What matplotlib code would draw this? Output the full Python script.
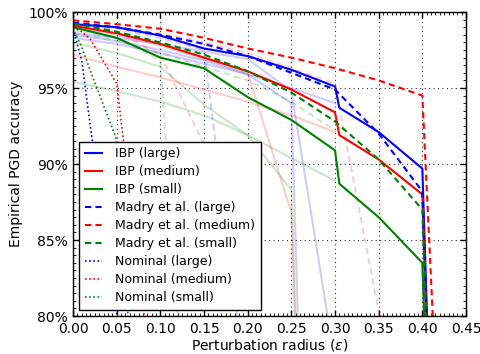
import matplotlib
matplotlib.use("Agg")
import matplotlib.pyplot as plt
from matplotlib.ticker import MultipleLocator, FuncFormatter

plt.rcParams['font.family'] = ['DejaVu Sans']

# perturbation radii
EPS = [0.0, 0.05, 0.1, 0.15, 0.2, 0.25, 0.3, 0.35, 0.4, 0.45]
EPS_JUMP = [0.0, 0.05, 0.1, 0.15, 0.2, 0.25, 0.3, 0.305, 0.35, 0.4, 0.45]
NOM_EPS = [0.0, 0.01, 0.02, 0.05, 0.1]

# main curves (accuracy in %)
ibp_large = [99.2, 99.0, 98.45, 97.6, 97.1, 96.2, 95.1, 93.7, 92.1, 89.7, 0.0]
ibp_medium = [99.1, 98.6, 97.9, 97.0, 96.1, 94.9, 93.4, 91.9, 90.3, 88.0, 0.0]
ibp_small = [99.0, 98.3, 97.0, 96.3, 94.4, 92.9, 90.9, 88.7, 86.5, 83.5, 0.0]
madry_large = [99.3, 99.0, 98.5, 97.9, 97.1, 96.0, 94.9, 92.0, 88.2, 0.0]
madry_medium = [99.45, 99.2, 98.9, 98.3, 97.6, 97.0, 96.3, 95.5, 94.5, 34.0]
madry_small = [99.25, 98.7, 98.0, 97.2, 96.1, 94.7, 92.8, 90.3, 87.0, 0.0]
nominal_large = [98.9, 96.8, 92.4, 80.2, 5.0]
nominal_medium = [99.0, 98.7, 98.2, 95.3, 71.0]
nominal_small = [98.9, 97.7, 96.1, 91.6, 47.0]

# faded curves (other training radii)
faded_ibp_blue_a = [98.6, 98.3, 97.9, 97.4, 96.9, 94.8, 77.0]
faded_ibp_blue_b = [98.5, 98.1, 97.5, 96.8, 95.9, 94.0, 0.0]
faded_ibp_blue_c = [98.3, 97.9, 97.3, 96.6, 95.9, 95.0, 94.0]
faded_ibp_red_a = [97.2, 96.4, 95.7, 94.9, 94.1, 93.2, 92.1]
faded_ibp_red_b = [99.0, 98.5, 97.8, 96.9, 96.0, 86.8, 0.0]
faded_ibp_green_a = [95.4, 94.8, 94.1, 93.2, 91.9, 88.3, 0.0]
faded_ibp_green_b = [98.0, 97.3, 96.4, 93.9, 91.9, 90.4, 88.9]
faded_madry_blue = [99.2, 98.9, 98.3, 97.5, 74.5]
faded_madry_red_a = [99.2, 98.7, 97.2, 91.3, 52.0]
faded_madry_red_b = [99.3, 99.0, 98.6, 98.0, 97.3, 96.3, 95.3, 80.3, 0.0]
faded_madry_green_a = [98.8, 98.3, 96.8, 55.0]
faded_madry_green_b = [98.6, 98.1, 97.3, 96.4, 95.5, 94.1, 92.2]

fig = plt.figure(figsize=(4.81, 3.54), dpi=100, facecolor='white')
ax = fig.add_axes([0.1518, 0.1073, 0.817, 0.8588])

fa = dict(alpha=0.2, linewidth=1.5)
ax.plot(EPS[:7], faded_ibp_blue_a, 'b-', **fa)
ax.plot(EPS[:7], faded_ibp_blue_b, 'b-', **fa)
ax.plot(EPS[:7], faded_ibp_blue_c, 'b-', **fa)
ax.plot(EPS[:7], faded_ibp_red_a, 'r-', **fa)
ax.plot(EPS[:7], faded_ibp_red_b, 'r-', **fa)
ax.plot(EPS[:7], faded_ibp_green_a, 'g-', **fa)
ax.plot(EPS[:7], faded_ibp_green_b, 'g-', **fa)
ax.plot(EPS[:5], faded_madry_blue, 'b', dashes=(3, 2), **fa)
ax.plot(EPS[:5], faded_madry_red_a, 'r', dashes=(3, 2), **fa)
ax.plot(EPS[:9], faded_madry_red_b, 'r', dashes=(3, 2), **fa)
ax.plot(EPS[:4], faded_madry_green_a, 'g', dashes=(3, 2), **fa)
ax.plot(EPS[:7], faded_madry_green_b, 'g', dashes=(3, 2), **fa)

lw = 1.5
ax.plot(EPS_JUMP, ibp_large, 'b-', lw=lw, label='IBP (large)')
ax.plot(EPS_JUMP, ibp_medium, 'r-', lw=lw, label='IBP (medium)')
ax.plot(EPS_JUMP, ibp_small, 'g-', lw=lw, label='IBP (small)')
ax.plot(EPS, madry_large, 'b', dashes=(3, 2), lw=lw, label='Madry et al. (large)')
ax.plot(EPS, madry_medium, 'r', dashes=(3, 2), lw=lw, label='Madry et al. (medium)')
ax.plot(EPS, madry_small, 'g', dashes=(3, 2), lw=lw, label='Madry et al. (small)')
ax.plot(NOM_EPS, nominal_large, 'b', dashes=(1, 1.5), lw=1.2, label='Nominal (large)')
ax.plot(NOM_EPS, nominal_medium, 'r', dashes=(1, 1.5), lw=1.2, label='Nominal (medium)')
ax.plot(NOM_EPS, nominal_small, 'g', dashes=(1, 1.5), lw=1.2, label='Nominal (small)')

ax.set_xlim(0, 0.45)
ax.set_ylim(80, 100)
ax.xaxis.set_major_locator(MultipleLocator(0.05))
ax.xaxis.set_minor_locator(MultipleLocator(0.005))
ax.yaxis.set_major_locator(MultipleLocator(5))
ax.yaxis.set_minor_locator(MultipleLocator(0.5))
ax.xaxis.set_major_formatter(FuncFormatter(lambda v, p: '%.2f' % v))
ax.yaxis.set_major_formatter(FuncFormatter(lambda v, p: '%d%%' % round(v)))
ax.tick_params(which='both', direction='in', top=True, right=True, labelsize=10)
ax.tick_params(which='major', length=4, width=1)
ax.tick_params(which='minor', length=2, width=0.6)
ax.tick_params(axis='x', which='major', pad=4)
ax.grid(True, which='major', color='black', dashes=(1, 3), linewidth=0.8, alpha=0.8)
for s in ax.spines.values():
    s.set_linewidth(1)

ax.set_xlabel(r'Perturbation radius ($\epsilon$)', fontsize=10, labelpad=1)
ax.set_ylabel('Empirical PGD accuracy', fontsize=10)

leg = ax.legend(loc='lower left', fontsize=9, fancybox=False, handlelength=1.4,
                handletextpad=1.0, labelspacing=0.4, borderpad=0.45,
                framealpha=1, edgecolor='black', borderaxespad=0.5)
leg.get_frame().set_linewidth(1)

fig.savefig('out.png', dpi=100, facecolor='white')
